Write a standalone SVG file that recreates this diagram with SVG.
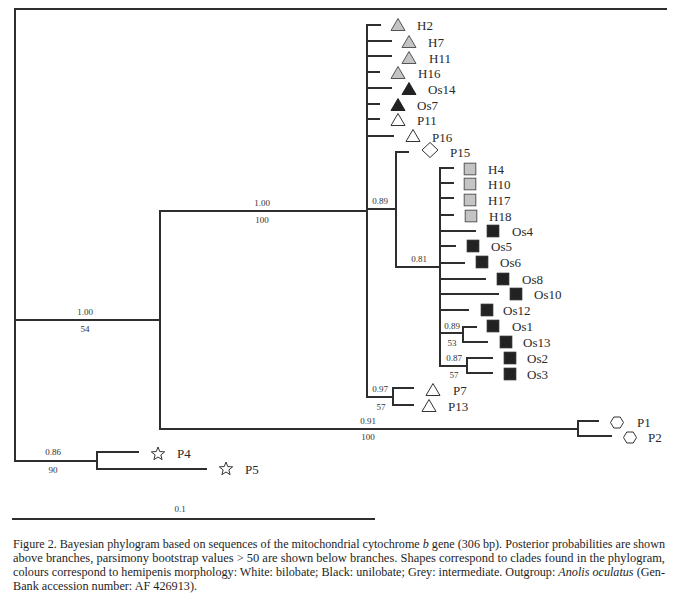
<svg xmlns="http://www.w3.org/2000/svg" xmlns:xlink="http://www.w3.org/1999/xlink" width="679" height="597" viewBox="0 0 679 597">
<defs>
<style>
.br{stroke:#2e2e2e;stroke-width:2;fill:none;stroke-linecap:square}
.tx{font-family:"Liberation Serif","Times New Roman",serif;font-size:13px;fill:#2a2a2a}
.sv{font-family:"Liberation Serif","Times New Roman",serif;font-size:9px;fill:#333;text-anchor:middle}
.cap{font-family:"Liberation Serif","Times New Roman",serif;font-size:11.5px;fill:#1e1e1e}
.grey{fill:#c4c4c4;stroke:#555;stroke-width:1}
.blk{fill:#222;stroke:#222;stroke-width:1}
.wht{fill:#fff;stroke:#333;stroke-width:1}
</style>
<path id="tri" d="M0,-6.5 L7,5.5 L-7,5.5 Z"/>
<rect id="sq" x="-5.8" y="-5.8" width="11.6" height="11.6"/>
<path id="dia" d="M0,-7.5 L8,0 L0,7.5 L-8,0 Z"/>
<path id="hex" d="M-6.5,0 L-3.2,-5.5 L3.2,-5.5 L6.5,0 L3.2,5.5 L-3.2,5.5 Z"/>
<path id="star" d="M0,-7 L1.76,-2.43 L6.66,-2.16 L2.85,0.93 L4.11,5.66 L0,3 L-4.11,5.66 L-2.85,0.93 L-6.66,-2.16 L-1.76,-2.43 Z"/>
</defs>
<rect width="679" height="597" fill="#fff"/>

<g id="connectors">
<path class="br" d="M15,9 H666 M15,9 V461 M15,320 H160 M15,461 H97"/>
<path class="br" d="M160,211 V429 M160,211 H367 M160,429 H578"/>
<path class="br" d="M367,25 V397 M367,25 H380 M367,41 H391 M367,56 H391 M367,72 H379 M367,88 H391 M367,104 H379 M367,119 H379 M367,136 H393 M367,209 H396 M367,397 H393"/>
<path class="br" d="M396,152 V267 M396,152 H408 M396,267 H440"/>
<path class="br" d="M440,168 V366 M440,168 H453 M440,183 H453 M440,198 H453 M440,215 H453 M440,231 H475 M440,246 H455 M440,263 H464 M440,279 H485 M440,294 H498 M440,310 H468 M440,333 H463 M440,366 H467"/>
<path class="br" d="M463,327 V342 M463,327 H476 M463,342 H487"/>
<path class="br" d="M467,358 V373 M467,358 H492 M467,373 H492"/>
<path class="br" d="M393,388 V405 M393,388 H413 M393,405 H413"/>
<path class="br" d="M578,421 V436 M578,421 H598 M578,436 H611"/>
<path class="br" d="M97,452 V469 M97,452 H138 M97,469 H206"/>
</g>

<g id="support">
<text class="sv" x="85" y="315">1.00</text><text class="sv" x="85" y="332">54</text>
<text class="sv" x="262" y="206">1.00</text><text class="sv" x="262" y="223">100</text>
<text class="sv" x="380" y="204">0.89</text>
<text class="sv" x="419" y="262">0.81</text>
<text class="sv" x="452" y="329">0.89</text><text class="sv" x="452" y="346">53</text>
<text class="sv" x="454" y="361">0.87</text><text class="sv" x="454" y="378">57</text>
<text class="sv" x="380" y="392">0.97</text><text class="sv" x="381" y="410">57</text>
<text class="sv" x="368" y="424">0.91</text><text class="sv" x="368" y="440">100</text>
<text class="sv" x="53" y="455">0.86</text><text class="sv" x="53" y="473">90</text>
</g>

<g id="H2"><use xlink:href="#tri" class="grey" x="398" y="25"/><text class="tx" x="417" y="30">H2</text></g>
<g id="H7"><use xlink:href="#tri" class="grey" x="409" y="42"/><text class="tx" x="428" y="47">H7</text></g>
<g id="H11"><use xlink:href="#tri" class="grey" x="409" y="58"/><text class="tx" x="429" y="63">H11</text></g>
<g id="H16"><use xlink:href="#tri" class="grey" x="398" y="73"/><text class="tx" x="418" y="78">H16</text></g>
<g id="Os14"><use xlink:href="#tri" class="blk" x="409" y="89"/><text class="tx" x="428" y="94">Os14</text></g>
<g id="Os7"><use xlink:href="#tri" class="blk" x="398" y="105"/><text class="tx" x="417" y="110">Os7</text></g>
<g id="P11"><use xlink:href="#tri" class="wht" x="398" y="120"/><text class="tx" x="417" y="125">P11</text></g>
<g id="P16"><use xlink:href="#tri" class="wht" x="413" y="136"/><text class="tx" x="432" y="142">P16</text></g>
<g id="P15"><use xlink:href="#dia" class="wht" x="430" y="150"/><text class="tx" x="450" y="157">P15</text></g>

<g id="H4"><use xlink:href="#sq" class="grey" x="470" y="169"/><text class="tx" x="488" y="174">H4</text></g>
<g id="H10"><use xlink:href="#sq" class="grey" x="470" y="184"/><text class="tx" x="488" y="189">H10</text></g>
<g id="H17"><use xlink:href="#sq" class="grey" x="470" y="200"/><text class="tx" x="488" y="205">H17</text></g>
<g id="H18"><use xlink:href="#sq" class="grey" x="471" y="216"/><text class="tx" x="489" y="221">H18</text></g>
<g id="Os4"><use xlink:href="#sq" class="blk" x="493" y="231"/><text class="tx" x="512" y="236">Os4</text></g>
<g id="Os5"><use xlink:href="#sq" class="blk" x="473" y="246"/><text class="tx" x="491" y="251">Os5</text></g>
<g id="Os6"><use xlink:href="#sq" class="blk" x="482" y="262"/><text class="tx" x="500" y="267">Os6</text></g>
<g id="Os8"><use xlink:href="#sq" class="blk" x="503" y="279"/><text class="tx" x="522" y="284">Os8</text></g>
<g id="Os10"><use xlink:href="#sq" class="blk" x="516" y="294"/><text class="tx" x="534" y="299">Os10</text></g>
<g id="Os12"><use xlink:href="#sq" class="blk" x="487" y="310"/><text class="tx" x="503" y="315">Os12</text></g>
<g id="Os1"><use xlink:href="#sq" class="blk" x="493" y="326"/><text class="tx" x="512" y="331">Os1</text></g>
<g id="Os13"><use xlink:href="#sq" class="blk" x="506" y="342"/><text class="tx" x="523" y="347">Os13</text></g>
<g id="Os2"><use xlink:href="#sq" class="blk" x="510" y="358"/><text class="tx" x="527" y="363">Os2</text></g>
<g id="Os3"><use xlink:href="#sq" class="blk" x="510" y="374"/><text class="tx" x="527" y="379">Os3</text></g>

<g id="P7"><use xlink:href="#tri" class="wht" x="433" y="390"/><text class="tx" x="453" y="395">P7</text></g>
<g id="P13"><use xlink:href="#tri" class="wht" x="429" y="406"/><text class="tx" x="448" y="411">P13</text></g>
<g id="P1"><use xlink:href="#hex" class="wht" x="617" y="422.5"/><text class="tx" x="637" y="427">P1</text></g>
<g id="P2"><use xlink:href="#hex" class="wht" x="630" y="437.5"/><text class="tx" x="648" y="442">P2</text></g>
<g id="P4"><use xlink:href="#star" class="wht" x="158" y="454"/><text class="tx" x="177" y="458">P4</text></g>
<g id="P5"><use xlink:href="#star" class="wht" x="226" y="469"/><text class="tx" x="245" y="474">P5</text></g>

<g id="scale">
<path class="br" d="M13,519 H374"/>
<text class="sv" x="180" y="512">0.1</text>
</g>

<g id="caption">
<text class="cap" x="13" y="548" textLength="652" lengthAdjust="spacingAndGlyphs">Figure 2. Bayesian phylogram based on sequences of the mitochondrial cytochrome <tspan font-style="italic">b</tspan> gene (306 bp). Posterior probabilities are shown</text>
<text class="cap" x="13" y="562" textLength="652" lengthAdjust="spacingAndGlyphs">above branches, parsimony bootstrap values &gt; 50 are shown below branches. Shapes correspond to clades found in the phylogram,</text>
<text class="cap" x="13" y="576" textLength="652" lengthAdjust="spacingAndGlyphs">colours correspond to hemipenis morphology: White: bilobate; Black: unilobate; Grey: intermediate. Outgroup: <tspan font-style="italic">Anolis oculatus</tspan> (Gen-</text>
<text class="cap" x="13" y="590" textLength="184" lengthAdjust="spacingAndGlyphs">Bank accession number: AF 426913).</text>
</g>
</svg>
